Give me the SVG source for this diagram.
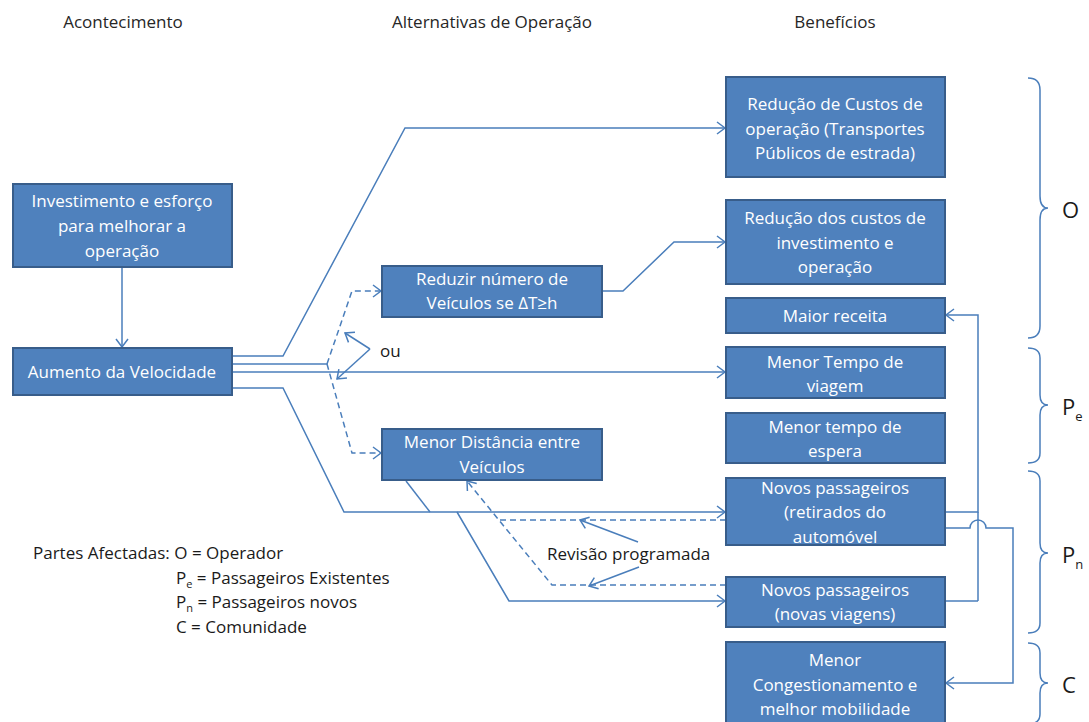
<svg xmlns="http://www.w3.org/2000/svg" width="1089" height="722" viewBox="0 0 1089 722">
  <style>
    .box { fill: #4F81BD; stroke: #385D8A; stroke-width: 2; }
    .bt { font-family: "Open Sans", "Liberation Sans", sans-serif; font-size: 17px; fill: #ffffff; text-anchor: middle; }
    .hd { font-family: "Open Sans", "Liberation Sans", sans-serif; font-size: 17px; fill: #262626; text-anchor: middle; }
    .lg { font-family: "Open Sans", "Liberation Sans", sans-serif; font-size: 17px; fill: #1a1a1a; }
    .big { font-family: "Open Sans", "Liberation Sans", sans-serif; font-size: 22px; fill: #1a1a1a; }
    .ln { fill: none; stroke: #4A7EBB; stroke-width: 1.5; }
    .dash { fill: none; stroke: #4A7EBB; stroke-width: 1.5; stroke-dasharray: 6 4; }
    .arr { marker-end: url(#chev); }
  </style>
  <defs>
    <marker id="chev" markerUnits="userSpaceOnUse" markerWidth="14" markerHeight="14" refX="10" refY="7" orient="auto">
      <path d="M2,1 L10,7 L2,13" fill="none" stroke="#4A7EBB" stroke-width="1.5"/>
    </marker>
  </defs>
  <rect width="1089" height="722" fill="#ffffff"/>

  <!-- column headings -->
  <g id="headings">
    <text class="hd" x="123" y="28">Acontecimento</text>
    <text class="hd" x="492" y="28">Alternativas de Operação</text>
    <text class="hd" x="835" y="28">Benefícios</text>
  </g>

  <!-- connectors -->
  <g id="connectors">
    <line class="ln arr" x1="122" y1="267" x2="122" y2="347"/>
    <polyline class="ln arr" points="232,356 283,356 405,128 725,128"/>
    <line class="ln" x1="232" y1="364" x2="327" y2="364"/>
    <line class="ln arr" x1="232" y1="372" x2="725" y2="372"/>
    <polyline class="ln arr" points="232,388 283,388 344,512 725,512"/>
    <path class="dash arr" d="M327,364 L352,291 L381,291"/>
    <path class="dash arr" d="M327,364 L352,453 L381,453"/>
    <polyline class="ln arr" points="370,349 345,333"/>
    <polyline class="ln arr" points="370,349 337,379"/>
    <polyline class="ln arr" points="602,291 623,291 674,242 725,242"/>
    <line class="ln" x1="406" y1="481" x2="430" y2="512"/>
    <polyline class="ln arr" points="457,512 509,601 725,601"/>
    <path class="dash arr" d="M726,585 L552,585 L467,481"/>
    <line class="dash" x1="726" y1="520" x2="500" y2="520"/>
    <line class="ln arr" x1="638" y1="542" x2="580" y2="520"/>
    <line class="ln arr" x1="639" y1="567" x2="589" y2="586"/>
    <polyline class="ln arr" points="945,512 978,512 978,315 946,315"/>
    <line class="ln" x1="945" y1="601" x2="978" y2="601"/>
    <line class="ln" x1="978" y1="512" x2="978" y2="601"/>
    <path class="ln arr" d="M945,528 L970,528 A8,8 0 0 1 986,528 L1013,528 L1013,683 L946,683"/>
  </g>

  <!-- event nodes -->
  <g id="n-investimento">
    <rect class="box" x="13" y="184" width="219" height="83"/>
    <text class="bt" x="122" y="207">Investimento e esforço</text>
    <text class="bt" x="122" y="232">para melhorar a</text>
    <text class="bt" x="122" y="257">operação</text>
  </g>
  <g id="n-aumento">
    <rect class="box" x="13" y="348" width="219" height="47"/>
    <text class="bt" x="122" y="378">Aumento da Velocidade</text>
  </g>

  <!-- operating alternatives -->
  <g id="n-reduzir">
    <rect class="box" x="382" y="266" width="220" height="51"/>
    <text class="bt" x="492" y="285">Reduzir número de</text>
    <text class="bt" x="492" y="309">Veículos se ΔT≥h</text>
  </g>
  <g id="n-distancia">
    <rect class="box" x="382" y="429" width="220" height="51"/>
    <text class="bt" x="492" y="448">Menor Distância entre</text>
    <text class="bt" x="492" y="473">Veículos</text>
  </g>

  <!-- benefits -->
  <g id="n-custos-op">
    <rect class="box" x="726" y="77" width="219" height="100"/>
    <text class="bt" x="835" y="110">Redução de Custos de</text>
    <text class="bt" x="835" y="135">operação (Transportes</text>
    <text class="bt" x="835" y="159">Públicos de estrada)</text>
  </g>
  <g id="n-custos-inv">
    <rect class="box" x="726" y="200" width="219" height="84"/>
    <text class="bt" x="835" y="224">Redução dos custos de</text>
    <text class="bt" x="835" y="249">investimento e</text>
    <text class="bt" x="835" y="273">operação</text>
  </g>
  <g id="n-receita">
    <rect class="box" x="726" y="298" width="219" height="35"/>
    <text class="bt" x="835" y="322">Maior receita</text>
  </g>
  <g id="n-tempo-viagem">
    <rect class="box" x="726" y="347" width="219" height="51"/>
    <text class="bt" x="835" y="368">Menor Tempo de</text>
    <text class="bt" x="835" y="392">viagem</text>
  </g>
  <g id="n-tempo-espera">
    <rect class="box" x="726" y="413" width="219" height="50"/>
    <text class="bt" x="835" y="433">Menor tempo de</text>
    <text class="bt" x="835" y="457">espera</text>
  </g>
  <g id="n-novos-auto">
    <rect class="box" x="726" y="478" width="219" height="67"/>
    <text class="bt" x="835" y="494">Novos passageiros</text>
    <text class="bt" x="835" y="518">(retirados do</text>
    <text class="bt" x="835" y="543">automóvel</text>
  </g>
  <g id="n-novos-viagens">
    <rect class="box" x="726" y="577" width="219" height="50"/>
    <text class="bt" x="835" y="596">Novos passageiros</text>
    <text class="bt" x="835" y="620">(novas viagens)</text>
  </g>
  <g id="n-congestionamento">
    <rect class="box" x="726" y="642" width="219" height="84"/>
    <text class="bt" x="835" y="666">Menor</text>
    <text class="bt" x="835" y="691">Congestionamento e</text>
    <text class="bt" x="835" y="715">melhor mobilidade</text>
  </g>

  <!-- labels on connectors -->
  <g id="labels">
    <text class="lg" x="380" y="357">ou</text>
    <text class="lg" x="547" y="560">Revisão programada</text>
  </g>

  <!-- affected-party braces -->
  <g id="braces" fill="none" stroke="#4A7EBB" stroke-width="1.5">
    <path d="M1028,78 Q1040,78 1040,90 V196 Q1040,208 1048,208 Q1040,208 1040,220 V326 Q1040,338 1028,338"/>
    <path d="M1028,348 Q1040,348 1040,358 V395 Q1040,405 1048,405 Q1040,405 1040,415 V453 Q1040,463 1028,463"/>
    <path d="M1028,471 Q1040,471 1040,481 V543 Q1040,553 1048,553 Q1040,553 1040,563 V623 Q1040,633 1028,633"/>
    <path d="M1028,643 Q1040,643 1040,653 V673 Q1040,683 1048,683 Q1040,683 1040,693 V714 Q1040,724 1028,724"/>
  </g>
  <g id="parties">
    <text class="big" x="1062" y="218">O</text>
    <text class="big" x="1062" y="415">P<tspan font-size="13" dy="6">e</tspan></text>
    <text class="big" x="1062" y="563">P<tspan font-size="13" dy="6">n</tspan></text>
    <text class="big" x="1062" y="693">C</text>
  </g>

  <!-- legend -->
  <g id="legend">
    <text class="lg" x="33" y="559">Partes Afectadas: O = Operador</text>
    <text class="lg" x="176" y="584">P<tspan font-size="11" dy="4">e</tspan><tspan dy="-4"> = Passageiros Existentes</tspan></text>
    <text class="lg" x="176" y="608">P<tspan font-size="11" dy="4">n</tspan><tspan dy="-4"> = Passageiros novos</tspan></text>
    <text class="lg" x="176" y="633">C = Comunidade</text>
  </g>
</svg>
